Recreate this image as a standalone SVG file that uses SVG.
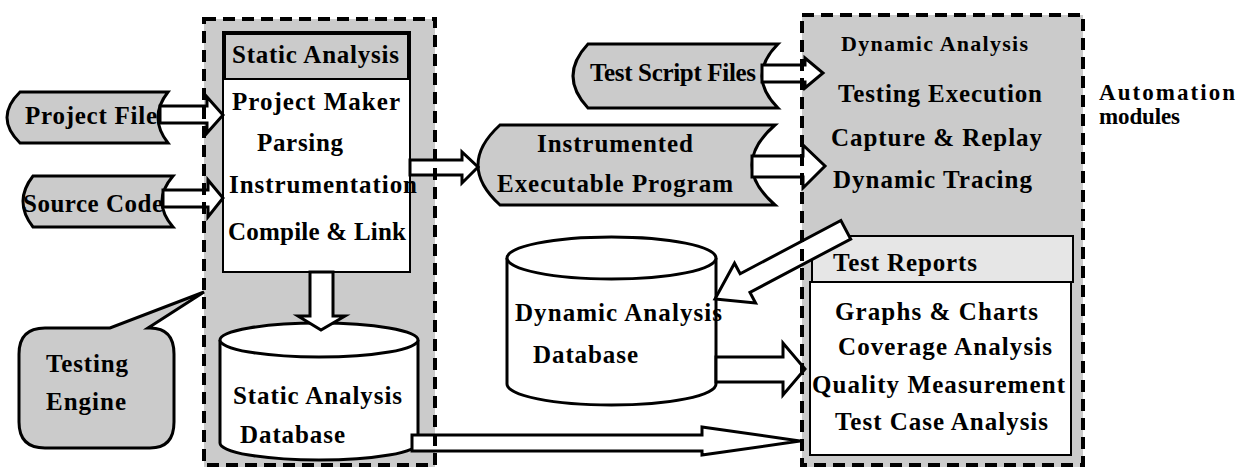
<svg xmlns="http://www.w3.org/2000/svg" width="1243" height="467" viewBox="0 0 1243 467">
<style>
.cont{fill:#cbcbcb;stroke:none}
.dash{fill:none;stroke:#000;stroke-width:4;stroke-dasharray:12 7}
.shape{fill:#cbcbcb;stroke:#000;stroke-width:3}
.box{fill:#fff;stroke:#000;stroke-width:2}
.db{fill:#fff;stroke:#000;stroke-width:3}
.arr{fill:#fff;stroke:#000;stroke-width:3;stroke-linejoin:miter}
</style>
<rect width="1243" height="467" fill="#fff"/>
<g id="testing-engine-container">
<rect class="cont" x="204" y="19" width="231" height="448"/>
</g>
<g id="automation-container">
<rect class="cont" x="802" y="15" width="281" height="452"/>
</g>
<g font-family="Liberation Serif, Times New Roman, DejaVu Serif, serif" font-weight="bold" font-size="25" fill="#000">
<g id="static-analysis">
<rect class="box" x="223" y="32" width="187" height="240"/>
<rect x="225" y="34" width="183" height="45" fill="#cbcbcb" stroke="#000" stroke-width="2"/>
<text x="232" y="63" textLength="167">Static Analysis</text>
<text x="232" y="110" textLength="168">Project Maker</text>
<text x="257" y="151" textLength="86">Parsing</text>
<text x="229" y="193" textLength="188">Instrumentation</text>
<text x="228" y="240" textLength="178">Compile &amp; Link</text>
</g>
<g id="project-file">
<path class="shape" d="M20,92 L168,92 Q148,117.5 168,143 L20,143 Q-6,117.5 20,92 Z"/>
<text x="25" y="124" textLength="132">Project File</text>
</g>
<g id="source-code">
<path class="shape" d="M33,176 L173,176 Q151,201.5 173,227 L33,227 Q13,201.5 33,176 Z"/>
<text x="23" y="212" textLength="140">Source Code</text>
</g>
<g id="static-db">
<path class="db" d="M220,340 L220,443 A99,17 0 0 0 418,443 L418,340"/>
<ellipse class="db" cx="319" cy="340" rx="99" ry="17"/>
<text x="233" y="404" textLength="169">Static Analysis</text>
<text x="240" y="443" textLength="105">Database</text>
</g>
<g id="testing-engine">
<path class="shape" d="M45,328 L110,328 L204,292 L148,328 L150,328 Q174,328 174,354 L174,422 Q174,448 150,448 L45,448 Q19,448 19,422 L19,354 Q19,328 45,328 Z"/>
<text x="46" y="372" textLength="82">Testing</text>
<text x="46" y="410" textLength="80">Engine</text>
</g>
<g id="test-script-files">
<path class="shape" d="M588,44 L778,44 Q746,76 778,108 L588,108 Q558,76 588,44 Z"/>
<text x="590" y="81" textLength="166">Test Script Files</text>
</g>
<g id="instrumented-program">
<path class="shape" d="M500,125 L775,125 Q729,165 775,205 L500,205 Q456,165 500,125 Z"/>
<text x="537" y="152" textLength="156">Instrumented</text>
<text x="497" y="192" textLength="236">Executable Program</text>
</g>
<g id="dynamic-db">
<path class="db" d="M507,258 L507,384 A104.5,21 0 0 0 716,384 L716,258"/>
<ellipse class="db" cx="611.5" cy="258" rx="104.5" ry="21"/>
<text x="515" y="321" textLength="207">Dynamic Analysis</text>
<text x="533" y="363" textLength="105">Database</text>
</g>
<g id="dynamic-analysis">
<text font-size="22" x="841" y="51" textLength="187">Dynamic Analysis</text>
<text x="838" y="102" textLength="204">Testing Execution</text>
<text x="831" y="146" textLength="211">Capture &amp; Replay</text>
<text x="833" y="188" textLength="199">Dynamic Tracing</text>
</g>
<g id="test-reports">
<rect class="box" x="810" y="282" width="261" height="173"/>
<rect x="812" y="236" width="261" height="46" fill="#e6e6e6" stroke="#000" stroke-width="2"/>
<text x="833" y="271" textLength="144">Test Reports</text>
<text x="835" y="320" textLength="203">Graphs &amp; Charts</text>
<text x="838" y="355" textLength="214">Coverage Analysis</text>
<text x="812" y="393" textLength="253">Quality Measurement</text>
<text x="835" y="430" textLength="213">Test Case Analysis</text>
</g>
<g id="automation-label">
<text font-size="23" x="1099" y="100" textLength="136">Automation</text>
<text font-size="23" x="1099" y="124" textLength="81">modules</text>
</g>
</g>
<g id="connectors">
<polygon class="arr" points="160,106 207,106 207,97 223,115 207,133 207,123 160,123"/>
<polygon class="arr" points="163,190 208,190 208,180 223,198 208,217 208,207 163,207"/>
<polygon class="arr" points="410,160 462,160 462,152 478,167 462,183 462,175 410,175"/>
<polygon class="arr" points="762,65 805,65 805,58 823,73 805,88 805,82 762,82"/>
<polygon class="arr" points="752,156 803,156 803,145 825,166 803,188 803,177 752,177"/>
<polygon class="arr" points="310,272 310,316 298,316 321,330 345,316 333,316 333,272"/>
<polygon class="arr" points="716,357 783,357 783,343 805,369 783,395 783,382 716,382"/>
<polygon class="arr" points="412,435 702,435 702,427 800,441 702,455 702,451 412,451"/>
<polygon class="arr" transform="translate(715,299) rotate(-27.9)" points="0,0 34,-22.5 34,-10.5 148,-10.5 148,10.5 34,10.5 34,22.5"/>
</g>
<g id="borders">
<rect class="dash" x="204" y="19" width="231" height="446"/>
<rect class="dash" x="802" y="15" width="281" height="450"/>
</g>
</svg>
